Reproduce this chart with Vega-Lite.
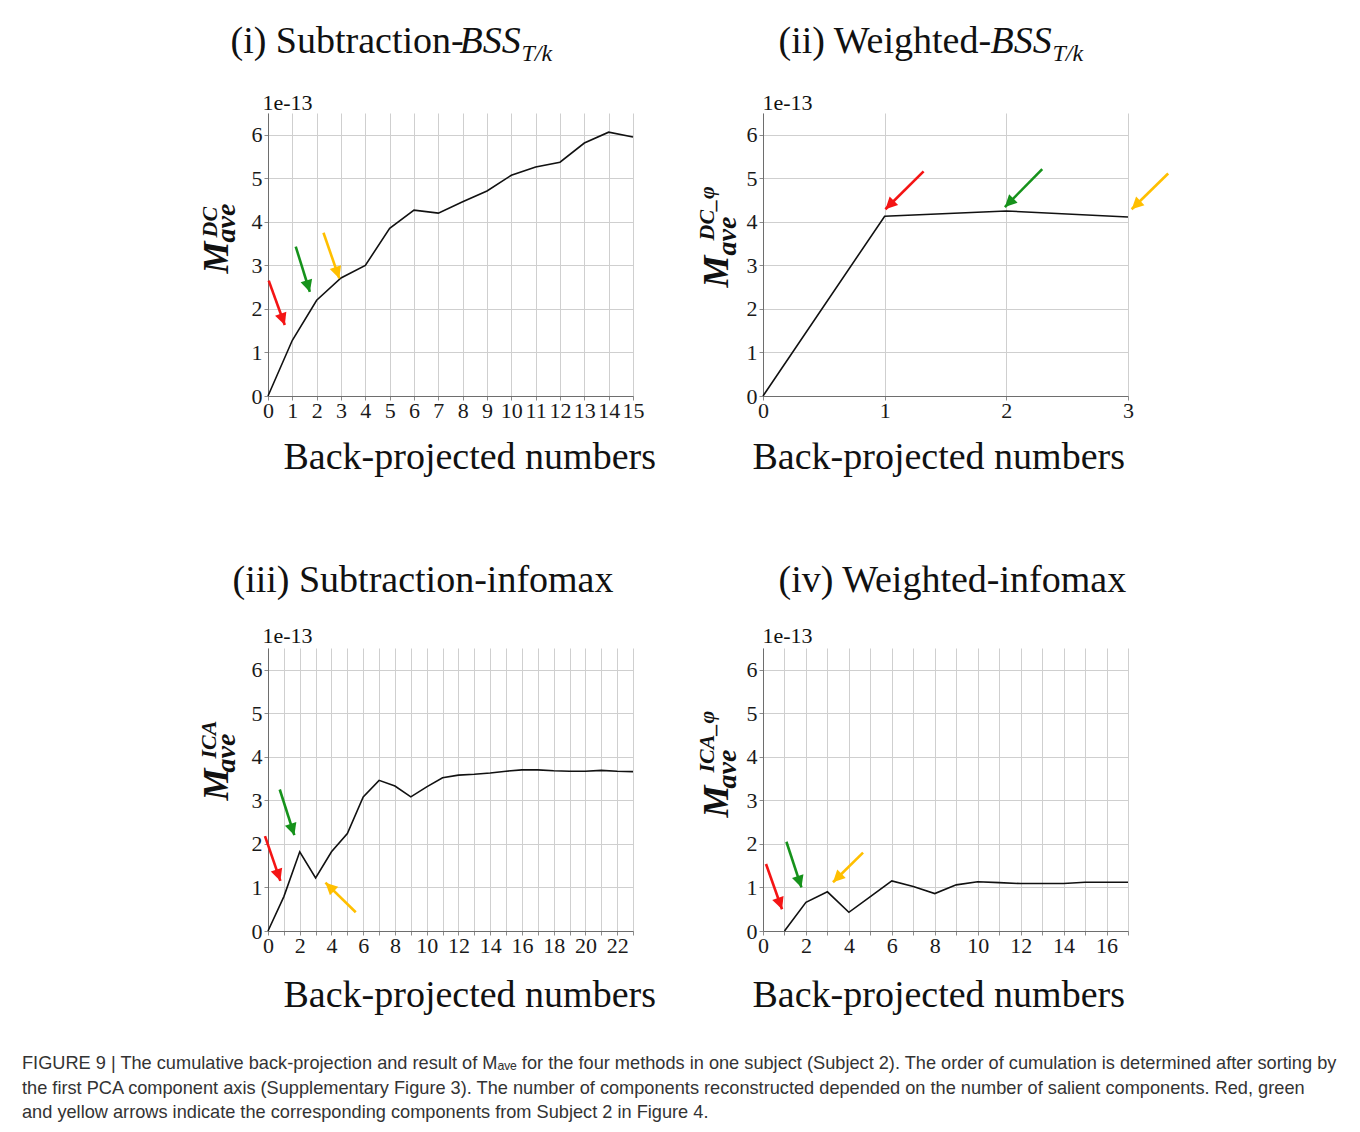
{
  "$schema": "https://vega.github.io/schema/vega-lite/v6.json",
  "background": "white",
  "padding": {"left": 22, "top": 22, "right": 5, "bottom": 5},
  "datasets": {
    "l1": [{"n":0,"m":0},{"n":1,"m":1.28},{"n":2,"m":2.2},{"n":3,"m":2.71},{"n":4,"m":3.0},{"n":5,"m":3.85},{"n":6,"m":4.27},{"n":7,"m":4.2},{"n":8,"m":4.46},{"n":9,"m":4.71},{"n":10,"m":5.07},{"n":11,"m":5.26},{"n":12,"m":5.37},{"n":13,"m":5.81},{"n":14,"m":6.06},{"n":15,"m":5.95}],
    "l2": [{"n":0,"m":0},{"n":1,"m":4.13},{"n":2,"m":4.25},{"n":3,"m":4.11}],
    "l3": [{"n":0,"m":0},{"n":1,"m":0.79},{"n":2,"m":1.82},{"n":3,"m":1.22},{"n":4,"m":1.82},{"n":5,"m":2.24},{"n":6,"m":3.08},{"n":7,"m":3.46},{"n":8,"m":3.33},{"n":9,"m":3.08},{"n":10,"m":3.31},{"n":11,"m":3.52},{"n":12,"m":3.58},{"n":13,"m":3.6},{"n":14,"m":3.63},{"n":15,"m":3.67},{"n":16,"m":3.7},{"n":17,"m":3.7},{"n":18,"m":3.68},{"n":19,"m":3.67},{"n":20,"m":3.67},{"n":21,"m":3.69},{"n":22,"m":3.67},{"n":23,"m":3.66}],
    "l4": [{"n":1,"m":0},{"n":2,"m":0.66},{"n":3,"m":0.9},{"n":4,"m":0.43},{"n":5,"m":0.79},{"n":6,"m":1.15},{"n":7,"m":1.02},{"n":8,"m":0.86},{"n":9,"m":1.06},{"n":10,"m":1.13},{"n":11,"m":1.11},{"n":12,"m":1.09},{"n":13,"m":1.09},{"n":14,"m":1.09},{"n":15,"m":1.12},{"n":16,"m":1.12},{"n":17,"m":1.12}],
    "a1": [{"c":"red","x0":0.03,"y0":2.65,"x1":0.69,"y1":1.63,"a":160},{"c":"green","x0":1.14,"y0":3.43,"x1":1.72,"y1":2.39,"a":163},{"c":"yellow","x0":2.28,"y0":3.75,"x1":2.93,"y1":2.7,"a":161}],
    "a2": [{"c":"red","x0":1.32,"y0":5.16,"x1":1.006,"y1":4.29,"a":225},{"c":"green","x0":2.295,"y0":5.21,"x1":1.988,"y1":4.34,"a":225},{"c":"yellow","x0":3.33,"y0":5.11,"x1":3.03,"y1":4.29,"a":226}],
    "a3": [{"c":"red","x0":-0.19,"y0":2.18,"x1":0.78,"y1":1.15,"a":161},{"c":"green","x0":0.74,"y0":3.25,"x1":1.66,"y1":2.2,"a":162},{"c":"yellow","x0":5.53,"y0":0.43,"x1":3.62,"y1":1.11,"a":314}],
    "a4": [{"c":"red","x0":0.14,"y0":1.54,"x1":0.886,"y1":0.5,"a":160},{"c":"green","x0":1.09,"y0":2.05,"x1":1.79,"y1":1.0,"a":162},{"c":"yellow","x0":4.66,"y0":1.8,"x1":3.26,"y1":1.12,"a":225}]
  },
  "title": {
    "text": [
      "FIGURE 9 | The cumulative back-projection and result of Mₐᵥₑ for the four methods in one subject (Subject 2). The order of cumulation is determined after sorting by",
      "the first PCA component axis (Supplementary Figure 3). The number of components reconstructed depended on the number of salient components. Red, green",
      "and yellow arrows indicate the corresponding components from Subject 2 in Figure 4."
    ],
    "orient": "bottom", "anchor": "start", "frame": "group", "dx": -246, "offset": 41,
    "font": "Liberation Sans", "fontSize": 18.2, "fontWeight": "normal", "color": "#333333",
    "lineHeight": 24.5, "baseline": "top", "limit": 1400
  },
  "concat": [
    {
      "width": 365, "height": 283,
      "layer": [
        {
          "data": {"name": "l1"},
          "mark": {"type": "line", "color": "#111111", "strokeWidth": 1.6},
          "encoding": {
            "x": {"field": "n", "type": "quantitative", "scale": {"domain": [0, 15], "nice": false, "zero": false},
              "axis": {"orient": "bottom", "values": [0,1,2,3,4,5,6,7,8,9,10,11,12,13,14,15], "grid": true, "labelPadding": 0,
                "title": "Back-projected numbers", "titleFontSize": 38, "titleAlign": "left", "titleBaseline": "alphabetic", "titleAngle": 0, "titleX": 15, "titleY": 72}},
            "y": {"field": "m", "type": "quantitative", "scale": {"domain": [0, 6.5], "nice": false},
              "axis": {"orient": "left", "values": [0,1,2,3,4,5,6], "grid": true, "labelPadding": 2,
                "title": "M", "titleFontSize": 36, "titleFontWeight": "bold", "titleFontStyle": "italic", "titleAngle": 270, "titleAlign": "left", "titleBaseline": "alphabetic", "titleX": -41, "titleY": 160}}
          }
        },
        {
          "data": {"name": "a1"},
          "mark": {"type": "rule", "strokeWidth": 2.6},
          "encoding": {
            "x": {"field": "x0", "type": "quantitative", "scale": {"domain": [0, 15], "nice": false, "zero": false},
              "axis": {"orient": "top", "grid": false, "ticks": false, "labels": false, "domain": false,
                "title": "1e-13", "titleFontSize": 22, "titleAlign": "left", "titleBaseline": "alphabetic", "titleAngle": 0, "titleX": -6, "titleY": -4}},
            "x2": {"field": "x1"},
            "y": {"field": "y0", "type": "quantitative", "scale": {"domain": [0, 6.5], "nice": false},
              "axis": {"orient": "left", "grid": false, "ticks": false, "labels": false, "domain": false,
                "title": "DC", "titleFontSize": 22, "titleFontWeight": "bold", "titleFontStyle": "italic", "titleAngle": 270, "titleAlign": "left", "titleBaseline": "alphabetic", "titleX": -52, "titleY": 124}},
            "y2": {"field": "y1"},
            "color": {"field": "c", "type": "nominal", "scale": {"domain": ["red", "green", "yellow"], "range": ["#f41414", "#16921b", "#ffbf00"]}, "legend": null}
          }
        },
        {
          "data": {"name": "a1"},
          "mark": {"type": "point", "shape": "M0,0L-0.5,1L0.5,1Z", "filled": true, "size": 576, "opacity": 1},
          "encoding": {
            "x": {"field": "x1", "type": "quantitative", "scale": {"domain": [0, 15], "nice": false, "zero": false},
              "axis": {"orient": "top", "grid": false, "ticks": false, "labels": false, "domain": false,
                "title": "(i) Subtraction-", "titleFontSize": 38, "titleAlign": "left", "titleBaseline": "alphabetic", "titleAngle": 0, "titleX": -38, "titleY": -61}},
            "y": {"field": "y1", "type": "quantitative", "scale": {"domain": [0, 6.5], "nice": false},
              "axis": {"orient": "left", "grid": false, "ticks": false, "labels": false, "domain": false,
                "title": "ave", "titleFontSize": 28, "titleFontWeight": "bold", "titleFontStyle": "italic", "titleAngle": 270, "titleAlign": "left", "titleBaseline": "alphabetic", "titleX": -34, "titleY": 129}},
            "angle": {"field": "a", "type": "quantitative", "scale": null},
            "color": {"field": "c", "type": "nominal", "scale": {"domain": ["red", "green", "yellow"], "range": ["#f41414", "#16921b", "#ffbf00"]}, "legend": null}
          }
        },
        {
          "data": {"name": "a1"},
          "mark": {"type": "rule", "opacity": 0},
          "encoding": {
            "x": {"field": "x0", "type": "quantitative", "scale": {"domain": [0, 15], "nice": false, "zero": false},
              "axis": {"orient": "top", "grid": false, "ticks": false, "labels": false, "domain": false,
                "title": "BSS", "titleFontSize": 38, "titleFontStyle": "italic", "titleAlign": "left", "titleBaseline": "alphabetic", "titleAngle": 0, "titleX": 191, "titleY": -61}},
            "y": {"field": "y0", "type": "quantitative", "scale": {"domain": [0, 6.5], "nice": false},
              "axis": {"orient": "left", "grid": false, "ticks": false, "labels": false, "domain": false,
                "title": "T/k", "titleFontSize": 24, "titleFontStyle": "italic", "titleAlign": "left", "titleBaseline": "alphabetic", "titleAngle": 0, "titleX": 253, "titleY": -53}}
          }
        }
      ],
      "resolve": {"axis": {"x": "independent", "y": "independent"}}
    },
    {
      "width": 365, "height": 283,
      "layer": [
        {
          "data": {"name": "l2"},
          "mark": {"type": "line", "color": "#111111", "strokeWidth": 1.6},
          "encoding": {
            "x": {"field": "n", "type": "quantitative", "scale": {"domain": [0, 3], "nice": false, "zero": false},
              "axis": {"orient": "bottom", "values": [0,1,2,3], "grid": true, "labelPadding": 0,
                "title": "Back-projected numbers", "titleFontSize": 38, "titleAlign": "left", "titleBaseline": "alphabetic", "titleAngle": 0, "titleX": -11, "titleY": 72}},
            "y": {"field": "m", "type": "quantitative", "scale": {"domain": [0, 6.5], "nice": false},
              "axis": {"orient": "left", "values": [0,1,2,3,4,5,6], "grid": true, "labelPadding": 2,
                "title": "M", "titleFontSize": 36, "titleFontWeight": "bold", "titleFontStyle": "italic", "titleAngle": 270, "titleAlign": "left", "titleBaseline": "alphabetic", "titleX": -36, "titleY": 174}}
          }
        },
        {
          "data": {"name": "a2"},
          "mark": {"type": "rule", "strokeWidth": 2.6},
          "encoding": {
            "x": {"field": "x0", "type": "quantitative", "scale": {"domain": [0, 3], "nice": false, "zero": false},
              "axis": {"orient": "top", "grid": false, "ticks": false, "labels": false, "domain": false,
                "title": "1e-13", "titleFontSize": 22, "titleAlign": "left", "titleBaseline": "alphabetic", "titleAngle": 0, "titleX": -1, "titleY": -4}},
            "x2": {"field": "x1"},
            "y": {"field": "y0", "type": "quantitative", "scale": {"domain": [0, 6.5], "nice": false},
              "axis": {"orient": "left", "grid": false, "ticks": false, "labels": false, "domain": false,
                "title": "DC_φ", "titleFontSize": 22, "titleFontWeight": "bold", "titleFontStyle": "italic", "titleAngle": 270, "titleAlign": "left", "titleBaseline": "alphabetic", "titleX": -50, "titleY": 127}},
            "y2": {"field": "y1"},
            "color": {"field": "c", "type": "nominal", "scale": {"domain": ["red", "green", "yellow"], "range": ["#f41414", "#16921b", "#ffbf00"]}, "legend": null}
          }
        },
        {
          "data": {"name": "a2"},
          "mark": {"type": "point", "shape": "M0,0L-0.5,1L0.5,1Z", "filled": true, "size": 576, "opacity": 1},
          "encoding": {
            "x": {"field": "x1", "type": "quantitative", "scale": {"domain": [0, 3], "nice": false, "zero": false},
              "axis": {"orient": "top", "grid": false, "ticks": false, "labels": false, "domain": false,
                "title": "(ii) Weighted-", "titleFontSize": 38, "titleAlign": "left", "titleBaseline": "alphabetic", "titleAngle": 0, "titleX": 15, "titleY": -61}},
            "y": {"field": "y1", "type": "quantitative", "scale": {"domain": [0, 6.5], "nice": false},
              "axis": {"orient": "left", "grid": false, "ticks": false, "labels": false, "domain": false,
                "title": "ave", "titleFontSize": 28, "titleFontWeight": "bold", "titleFontStyle": "italic", "titleAngle": 270, "titleAlign": "left", "titleBaseline": "alphabetic", "titleX": -28, "titleY": 142}},
            "angle": {"field": "a", "type": "quantitative", "scale": null},
            "color": {"field": "c", "type": "nominal", "scale": {"domain": ["red", "green", "yellow"], "range": ["#f41414", "#16921b", "#ffbf00"]}, "legend": null}
          }
        },
        {
          "data": {"name": "a2"},
          "mark": {"type": "rule", "opacity": 0},
          "encoding": {
            "x": {"field": "x0", "type": "quantitative", "scale": {"domain": [0, 3], "nice": false, "zero": false},
              "axis": {"orient": "top", "grid": false, "ticks": false, "labels": false, "domain": false,
                "title": "BSS", "titleFontSize": 38, "titleFontStyle": "italic", "titleAlign": "left", "titleBaseline": "alphabetic", "titleAngle": 0, "titleX": 227, "titleY": -61}},
            "y": {"field": "y0", "type": "quantitative", "scale": {"domain": [0, 6.5], "nice": false},
              "axis": {"orient": "left", "grid": false, "ticks": false, "labels": false, "domain": false,
                "title": "T/k", "titleFontSize": 24, "titleFontStyle": "italic", "titleAlign": "left", "titleBaseline": "alphabetic", "titleAngle": 0, "titleX": 289, "titleY": -53}}
          }
        }
      ],
      "resolve": {"axis": {"x": "independent", "y": "independent"}}
    },
    {
      "width": 365, "height": 283,
      "layer": [
        {
          "data": {"name": "l3"},
          "mark": {"type": "line", "color": "#111111", "strokeWidth": 1.6},
          "encoding": {
            "x": {"field": "n", "type": "quantitative", "scale": {"domain": [0, 23], "nice": false, "zero": false},
              "axis": {"orient": "bottom", "values": [0,1,2,3,4,5,6,7,8,9,10,11,12,13,14,15,16,17,18,19,20,21,22,23], "labelExpr": "datum.value % 2 == 0 ? datum.label : ''", "grid": true, "labelPadding": 0,
                "title": "Back-projected numbers", "titleFontSize": 38, "titleAlign": "left", "titleBaseline": "alphabetic", "titleAngle": 0, "titleX": 15, "titleY": 75}},
            "y": {"field": "m", "type": "quantitative", "scale": {"domain": [0, 6.5], "nice": false},
              "axis": {"orient": "left", "values": [0,1,2,3,4,5,6], "grid": true, "labelPadding": 2,
                "title": "M", "titleFontSize": 36, "titleFontWeight": "bold", "titleFontStyle": "italic", "titleAngle": 270, "titleAlign": "left", "titleBaseline": "alphabetic", "titleX": -41, "titleY": 152}}
          }
        },
        {
          "data": {"name": "a3"},
          "mark": {"type": "rule", "strokeWidth": 2.6},
          "encoding": {
            "x": {"field": "x0", "type": "quantitative", "scale": {"domain": [0, 23], "nice": false, "zero": false},
              "axis": {"orient": "top", "grid": false, "ticks": false, "labels": false, "domain": false,
                "title": "1e-13", "titleFontSize": 22, "titleAlign": "left", "titleBaseline": "alphabetic", "titleAngle": 0, "titleX": -6, "titleY": -6}},
            "x2": {"field": "x1"},
            "y": {"field": "y0", "type": "quantitative", "scale": {"domain": [0, 6.5], "nice": false},
              "axis": {"orient": "left", "grid": false, "ticks": false, "labels": false, "domain": false,
                "title": "ICA", "titleFontSize": 22, "titleFontWeight": "bold", "titleFontStyle": "italic", "titleAngle": 270, "titleAlign": "left", "titleBaseline": "alphabetic", "titleX": -53, "titleY": 110}},
            "y2": {"field": "y1"},
            "color": {"field": "c", "type": "nominal", "scale": {"domain": ["red", "green", "yellow"], "range": ["#f41414", "#16921b", "#ffbf00"]}, "legend": null}
          }
        },
        {
          "data": {"name": "a3"},
          "mark": {"type": "point", "shape": "M0,0L-0.5,1L0.5,1Z", "filled": true, "size": 576, "opacity": 1},
          "encoding": {
            "x": {"field": "x1", "type": "quantitative", "scale": {"domain": [0, 23], "nice": false, "zero": false},
              "axis": {"orient": "top", "grid": false, "ticks": false, "labels": false, "domain": false,
                "title": "(iii) Subtraction-infomax", "titleFontSize": 38, "titleAlign": "left", "titleBaseline": "alphabetic", "titleAngle": 0, "titleX": -36, "titleY": -57}},
            "y": {"field": "y1", "type": "quantitative", "scale": {"domain": [0, 6.5], "nice": false},
              "axis": {"orient": "left", "grid": false, "ticks": false, "labels": false, "domain": false,
                "title": "ave", "titleFontSize": 28, "titleFontWeight": "bold", "titleFontStyle": "italic", "titleAngle": 270, "titleAlign": "left", "titleBaseline": "alphabetic", "titleX": -34, "titleY": 124}},
            "angle": {"field": "a", "type": "quantitative", "scale": null},
            "color": {"field": "c", "type": "nominal", "scale": {"domain": ["red", "green", "yellow"], "range": ["#f41414", "#16921b", "#ffbf00"]}, "legend": null}
          }
        }
      ],
      "resolve": {"axis": {"x": "independent", "y": "independent"}}
    },
    {
      "width": 365, "height": 283,
      "layer": [
        {
          "data": {"name": "l4"},
          "mark": {"type": "line", "color": "#111111", "strokeWidth": 1.6},
          "encoding": {
            "x": {"field": "n", "type": "quantitative", "scale": {"domain": [0, 17], "nice": false, "zero": false},
              "axis": {"orient": "bottom", "values": [0,1,2,3,4,5,6,7,8,9,10,11,12,13,14,15,16,17], "labelExpr": "datum.value % 2 == 0 ? datum.label : ''", "grid": true, "labelPadding": 0,
                "title": "Back-projected numbers", "titleFontSize": 38, "titleAlign": "left", "titleBaseline": "alphabetic", "titleAngle": 0, "titleX": -11, "titleY": 75}},
            "y": {"field": "m", "type": "quantitative", "scale": {"domain": [0, 6.5], "nice": false},
              "axis": {"orient": "left", "values": [0,1,2,3,4,5,6], "grid": true, "labelPadding": 2,
                "title": "M", "titleFontSize": 36, "titleFontWeight": "bold", "titleFontStyle": "italic", "titleAngle": 270, "titleAlign": "left", "titleBaseline": "alphabetic", "titleX": -36, "titleY": 169}}
          }
        },
        {
          "data": {"name": "a4"},
          "mark": {"type": "rule", "strokeWidth": 2.6},
          "encoding": {
            "x": {"field": "x0", "type": "quantitative", "scale": {"domain": [0, 17], "nice": false, "zero": false},
              "axis": {"orient": "top", "grid": false, "ticks": false, "labels": false, "domain": false,
                "title": "1e-13", "titleFontSize": 22, "titleAlign": "left", "titleBaseline": "alphabetic", "titleAngle": 0, "titleX": -1, "titleY": -6}},
            "x2": {"field": "x1"},
            "y": {"field": "y0", "type": "quantitative", "scale": {"domain": [0, 6.5], "nice": false},
              "axis": {"orient": "left", "grid": false, "ticks": false, "labels": false, "domain": false,
                "title": "ICA_φ", "titleFontSize": 22, "titleFontWeight": "bold", "titleFontStyle": "italic", "titleAngle": 270, "titleAlign": "left", "titleBaseline": "alphabetic", "titleX": -50, "titleY": 124}},
            "y2": {"field": "y1"},
            "color": {"field": "c", "type": "nominal", "scale": {"domain": ["red", "green", "yellow"], "range": ["#f41414", "#16921b", "#ffbf00"]}, "legend": null}
          }
        },
        {
          "data": {"name": "a4"},
          "mark": {"type": "point", "shape": "M0,0L-0.5,1L0.5,1Z", "filled": true, "size": 576, "opacity": 1},
          "encoding": {
            "x": {"field": "x1", "type": "quantitative", "scale": {"domain": [0, 17], "nice": false, "zero": false},
              "axis": {"orient": "top", "grid": false, "ticks": false, "labels": false, "domain": false,
                "title": "(iv) Weighted-infomax", "titleFontSize": 38, "titleAlign": "left", "titleBaseline": "alphabetic", "titleAngle": 0, "titleX": 15, "titleY": -57}},
            "y": {"field": "y1", "type": "quantitative", "scale": {"domain": [0, 6.5], "nice": false},
              "axis": {"orient": "left", "grid": false, "ticks": false, "labels": false, "domain": false,
                "title": "ave", "titleFontSize": 28, "titleFontWeight": "bold", "titleFontStyle": "italic", "titleAngle": 270, "titleAlign": "left", "titleBaseline": "alphabetic", "titleX": -28, "titleY": 140}},
            "angle": {"field": "a", "type": "quantitative", "scale": null},
            "color": {"field": "c", "type": "nominal", "scale": {"domain": ["red", "green", "yellow"], "range": ["#f41414", "#16921b", "#ffbf00"]}, "legend": null}
          }
        }
      ],
      "resolve": {"axis": {"x": "independent", "y": "independent"}}
    }
  ],
  "columns": 2,
  "spacing": {"row": 252, "column": 130},
  "bounds": "flush",
  "config": {
    "view": {"stroke": null},
    "axis": {
      "labelFont": "Liberation Serif", "labelFontSize": 22, "labelColor": "#1a1a1a",
      "tickColor": "#8c8c8c", "tickSize": 4, "tickWidth": 1,
      "domainColor": "#6e6e6e", "domainWidth": 1,
      "gridColor": "#cfcfcf", "gridWidth": 1,
      "titleFont": "Liberation Serif", "titleColor": "#111111", "titleFontWeight": "normal",
      "labelOverlap": false, "labelFlush": false, "titleLimit": 2000
    }
  }
}
